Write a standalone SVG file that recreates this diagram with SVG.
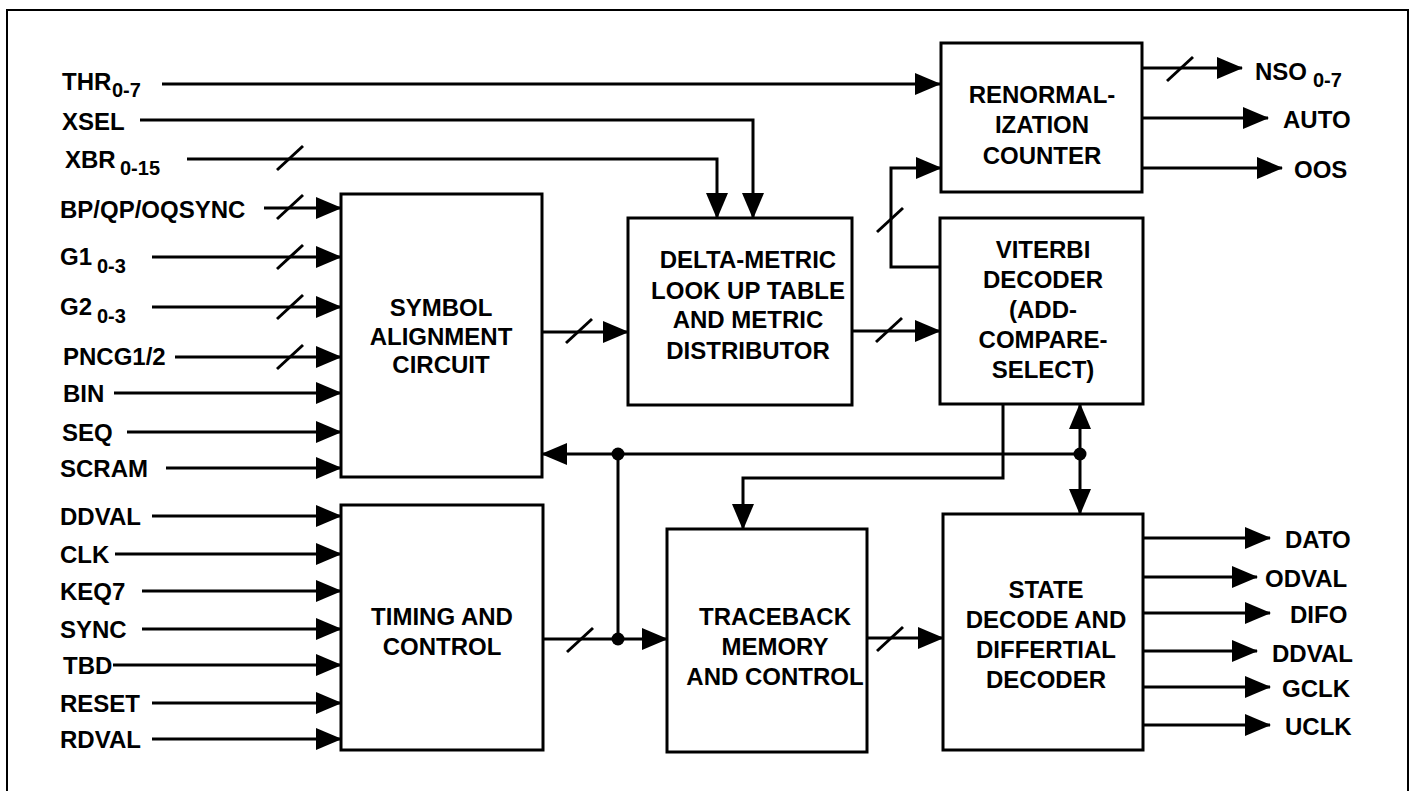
<svg xmlns="http://www.w3.org/2000/svg" xmlns:xlink="http://www.w3.org/1999/xlink" width="1414" height="791" viewBox="0 0 1414 791">
<style>
.t{font-family:"Liberation Sans",Arial,sans-serif;font-size:24px;font-weight:bold;fill:#000}
.s{font-size:20px}
.c{text-anchor:middle}
.box{fill:#fff;stroke:#000;stroke-width:3}
.w{fill:none;stroke:#000;stroke-width:3}
.sl{stroke:#000;stroke-width:3}
</style>
<defs>
<marker id="a" markerUnits="userSpaceOnUse" markerWidth="26" markerHeight="22" refX="25" refY="11" orient="auto-start-reverse" viewBox="0 0 26 22">
<path d="M0,0 L26,11 L0,22 Z" fill="#000"/>
</marker>
<line id="sl" x1="-13" y1="12" x2="13" y2="-12" class="sl"/>
</defs>
<rect width="1414" height="791" fill="#fff"/>
<path d="M7,795 V10 H1408 V795" fill="none" stroke="#000" stroke-width="2"/>

<g id="symbol">
<rect class="box" x="341" y="194" width="201" height="283"/>
<text class="t c" x="441" y="316">SYMBOL</text>
<text class="t c" x="441" y="345">ALIGNMENT</text>
<text class="t c" x="441" y="373">CIRCUIT</text>
</g>
<g id="timing">
<rect class="box" x="341" y="505" width="202" height="245"/>
<text class="t c" x="442" y="625">TIMING AND</text>
<text class="t c" x="442" y="655">CONTROL</text>
</g>
<g id="delta">
<rect class="box" x="628" y="218" width="224" height="187"/>
<text class="t c" x="748" y="268">DELTA-METRIC</text>
<text class="t c" x="748" y="299">LOOK UP TABLE</text>
<text class="t c" x="748" y="328">AND METRIC</text>
<text class="t c" x="748" y="359">DISTRIBUTOR</text>
</g>
<g id="renorm">
<rect class="box" x="941" y="43" width="201" height="149"/>
<text class="t c" x="1042" y="103">RENORMAL-</text>
<text class="t c" x="1042" y="133">IZATION</text>
<text class="t c" x="1042" y="164">COUNTER</text>
</g>
<g id="viterbi">
<rect class="box" x="940" y="218" width="203" height="186"/>
<text class="t c" x="1043" y="258">VITERBI</text>
<text class="t c" x="1043" y="288">DECODER</text>
<text class="t c" x="1043" y="318">(ADD-</text>
<text class="t c" x="1043" y="348">COMPARE-</text>
<text class="t c" x="1043" y="378">SELECT)</text>
</g>
<g id="traceback">
<rect class="box" x="667" y="529" width="200" height="223"/>
<text class="t c" x="775" y="625">TRACEBACK</text>
<text class="t c" x="775" y="655">MEMORY</text>
<text class="t c" x="775" y="685">AND CONTROL</text>
</g>
<g id="statedecode">
<rect class="box" x="943" y="514" width="200" height="236"/>
<text class="t c" x="1046" y="598">STATE</text>
<text class="t c" x="1046" y="628">DECODE AND</text>
<text class="t c" x="1046" y="658">DIFFERTIAL</text>
<text class="t c" x="1046" y="688">DECODER</text>
</g>

<g id="labels">
<text class="t" x="62" y="90">THR<tspan class="s" x="112" y="97">0-7</tspan></text>
<text class="t" x="62" y="130">XSEL</text>
<text class="t" x="65" y="168">XBR<tspan class="s" x="120" y="175">0-15</tspan></text>
<text class="t" x="60" y="218">BP/QP/OQSYNC</text>
<text class="t" x="60" y="265">G1<tspan class="s" x="97" y="273">0-3</tspan></text>
<text class="t" x="60" y="315">G2<tspan class="s" x="97" y="323">0-3</tspan></text>
<text class="t" x="63" y="365">PNCG1/2</text>
<text class="t" x="63" y="402">BIN</text>
<text class="t" x="62" y="441">SEQ</text>
<text class="t" x="60" y="477">SCRAM</text>
<text class="t" x="60" y="525">DDVAL</text>
<text class="t" x="60" y="563">CLK</text>
<text class="t" x="60" y="600">KEQ7</text>
<text class="t" x="60" y="638">SYNC</text>
<text class="t" x="63" y="674">TBD</text>
<text class="t" x="60" y="712">RESET</text>
<text class="t" x="60" y="748">RDVAL</text>
<text class="t" x="1255" y="80">NSO<tspan class="s" x="1313" y="87">0-7</tspan></text>
<text class="t" x="1283" y="128">AUTO</text>
<text class="t" x="1294" y="178">OOS</text>
<text class="t" x="1285" y="548">DATO</text>
<text class="t" x="1265" y="587">ODVAL</text>
<text class="t" x="1290" y="623">DIFO</text>
<text class="t" x="1272" y="662">DDVAL</text>
<text class="t" x="1282" y="697">GCLK</text>
<text class="t" x="1285" y="735">UCLK</text>
</g>

<g id="connectors">
<path class="w" marker-end="url(#a)" d="M162,84 H940"/>
<path class="w" marker-end="url(#a)" d="M140,120 H753 V218"/>
<path class="w" marker-end="url(#a)" d="M187,159 H717 V218"/>
<path class="w" marker-end="url(#a)" d="M264,208 H341"/>
<path class="w" marker-end="url(#a)" d="M152,257 H341"/>
<path class="w" marker-end="url(#a)" d="M152,307 H341"/>
<path class="w" marker-end="url(#a)" d="M175,357 H341"/>
<path class="w" marker-end="url(#a)" d="M114,393 H341"/>
<path class="w" marker-end="url(#a)" d="M127,432 H341"/>
<path class="w" marker-end="url(#a)" d="M166,468 H341"/>
<path class="w" marker-end="url(#a)" d="M152,516 H341"/>
<path class="w" marker-end="url(#a)" d="M115,554 H341"/>
<path class="w" marker-end="url(#a)" d="M142,591 H341"/>
<path class="w" marker-end="url(#a)" d="M142,629 H341"/>
<path class="w" marker-end="url(#a)" d="M113,665 H341"/>
<path class="w" marker-end="url(#a)" d="M152,703 H341"/>
<path class="w" marker-end="url(#a)" d="M152,739 H341"/>
<path class="w" marker-end="url(#a)" d="M542,332 H628"/>
<path class="w" marker-end="url(#a)" d="M852,331 H940"/>
<path class="w" marker-end="url(#a)" d="M940,267 H891 V168 H941"/>
<path class="w" marker-end="url(#a)" d="M1142,68 H1242"/>
<path class="w" marker-end="url(#a)" d="M1142,118 H1268"/>
<path class="w" marker-end="url(#a)" d="M1142,168 H1282"/>
<path class="w" marker-end="url(#a)" d="M1080,454 H542"/>
<path class="w" d="M618,454 V639"/>
<path class="w" marker-end="url(#a)" d="M1003,404 V478 H743 V529"/>
<path class="w" marker-start="url(#a)" marker-end="url(#a)" d="M1080,404 V514"/>
<path class="w" marker-end="url(#a)" d="M543,639 H667"/>
<path class="w" marker-end="url(#a)" d="M867,638 H943"/>
<path class="w" marker-end="url(#a)" d="M1143,538 H1270"/>
<path class="w" marker-end="url(#a)" d="M1143,577 H1257"/>
<path class="w" marker-end="url(#a)" d="M1143,613 H1270"/>
<path class="w" marker-end="url(#a)" d="M1143,651 H1257"/>
<path class="w" marker-end="url(#a)" d="M1143,687 H1270"/>
<path class="w" marker-end="url(#a)" d="M1143,725 H1270"/>
<circle cx="618" cy="454" r="6.5"/>
<circle cx="618" cy="639" r="6.5"/>
<circle cx="1080" cy="454" r="6.5"/>
<use xlink:href="#sl" x="290" y="207"/>
<use xlink:href="#sl" x="290" y="158"/>
<use xlink:href="#sl" x="290" y="257"/>
<use xlink:href="#sl" x="290" y="307"/>
<use xlink:href="#sl" x="290" y="357"/>
<use xlink:href="#sl" x="579" y="331"/>
<use xlink:href="#sl" x="889" y="330"/>
<use xlink:href="#sl" x="890" y="220"/>
<use xlink:href="#sl" x="1180" y="69"/>
<use xlink:href="#sl" x="580" y="640"/>
<use xlink:href="#sl" x="890" y="639"/>
</g>
</svg>
